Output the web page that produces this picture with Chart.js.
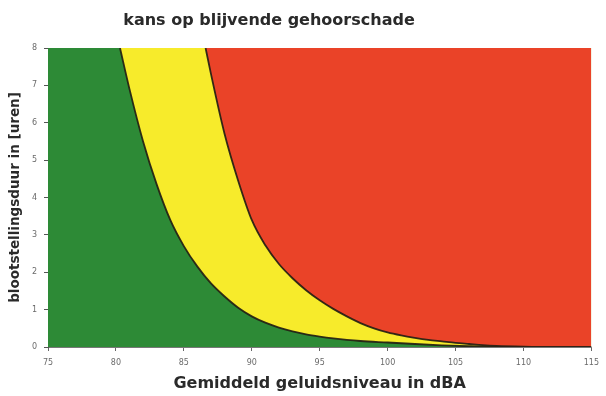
<!DOCTYPE html>
<html>
<head>
<meta charset="utf-8">
<script src="https://cdn.jsdelivr.net/npm/chart.js@4/dist/chart.umd.min.js"></script>
<style>
  html, body { margin: 0; padding: 0; background: #ffffff; }
  #wrap { width: 606px; height: 396px; }
</style>
</head>
<body>
<div id="wrap"><canvas id="c" width="606" height="396"></canvas></div>
<script>
// Texts
const chartTitle = 'kans op blijvende gehoorschade';
const xTitle = 'Gemiddeld geluidsniveau in dBA';
const yTitle = 'blootstellingsduur in [uren]';

// Axis ticks
const xTicks = [75, 80, 85, 90, 95, 100, 105, 110, 115];
const yTicks = [0, 1, 2, 3, 4, 5, 6, 7, 8];

// Lower limit: below/left of this curve the exposure is safe (green)
const safeLevel = [80.3, 81, 82, 83, 84, 85, 86, 87, 88, 89, 90, 91, 92, 93, 94, 95, 96, 97, 98, 100, 102, 104, 106, 108, 110, 115];
const safeHours = [8, 6.9, 5.5, 4.35, 3.4, 2.7, 2.15, 1.7, 1.35, 1.05, 0.82, 0.65, 0.52, 0.42, 0.34, 0.28, 0.23, 0.19, 0.16, 0.12, 0.08, 0.045, 0.02, 0.008, 0, 0];

// Upper limit: above/right of this curve the risk is high (red)
const riskLevel = [86.6, 87, 88, 89, 90, 91, 92, 93, 94, 95, 96, 97, 98, 99, 100, 101, 102, 103, 104, 105, 106, 107, 108, 110, 112, 115];
const riskHours = [8, 7.3, 5.7, 4.45, 3.4, 2.72, 2.22, 1.84, 1.52, 1.25, 1.02, 0.82, 0.64, 0.5, 0.39, 0.31, 0.245, 0.19, 0.15, 0.11, 0.08, 0.05, 0.03, 0.01, 0, 0];

const GREEN = '#2d8a36';
const YELLOW = '#f7eb2b';
const RED = '#ea4328';
const EDGE = 'rgba(35,30,20,0.92)';
const FONT = '"DejaVu Sans", "Liberation Sans", sans-serif';

const toPoints = (xs, ys) => xs.map((x, i) => ({ x: x, y: ys[i] }));
const yMax = yTicks[yTicks.length - 1];
const xMin = xTicks[0];
const xMax = xTicks[xTicks.length - 1];

const titlePlugin = {
  id: 'chartTitleText',
  afterDraw(chart) {
    const c = chart.ctx;
    c.save();
    c.font = 'bold 16px ' + FONT;
    c.fillStyle = '#2a2a2a';
    c.textAlign = 'center';
    c.textBaseline = 'middle';
    c.fillText(chartTitle, 269, 21);
    c.restore();
  }
};

new Chart(document.getElementById('c'), {
  type: 'line',
  data: {
    datasets: [
      {
        // high risk zone: everything above the upper limit
        data: toPoints(riskLevel, riskHours),
        fill: 'end',
        backgroundColor: RED,
        borderColor: EDGE,
        borderWidth: 1.8,
        pointRadius: 0,
        cubicInterpolationMode: 'monotone',
        clip: 0,
        order: 1
      },
      {
        // elevated zone: everything above the lower limit
        data: toPoints(safeLevel, safeHours),
        fill: 'end',
        backgroundColor: YELLOW,
        borderColor: EDGE,
        borderWidth: 1.8,
        pointRadius: 0,
        cubicInterpolationMode: 'monotone',
        clip: 0,
        order: 2
      },
      {
        // safe zone: base layer over the whole plot
        data: [{ x: xMin, y: yMax }, { x: xMax, y: yMax }],
        fill: 'origin',
        backgroundColor: GREEN,
        borderWidth: 0,
        pointRadius: 0,
        clip: 0,
        order: 3
      }
    ]
  },
  options: {
    responsive: false,
    animation: false,
    layout: { padding: { top: 48, right: 14, left: 0, bottom: 0 } },
    plugins: {
      legend: { display: false },
      tooltip: { enabled: false },
      title: { display: false }
    },
    scales: {
      x: {
        type: 'linear',
        min: xMin,
        max: xMax,
        afterFit: s => { s.height = 49; },
        afterBuildTicks: s => { s.ticks = xTicks.map(v => ({ value: v })); },
        ticks: { color: '#6a6a6a', font: { family: FONT, size: 8 }, padding: 7, maxRotation: 0 },
        grid: { drawOnChartArea: false, tickLength: 4, color: '#666' },
        border: { display: true, color: '#777', width: 1 },
        title: {
          display: true,
          text: xTitle,
          color: '#2a2a2a',
          font: { family: FONT, size: 16, weight: 'bold' },
          padding: { top: 0, bottom: 3 }
        }
      },
      y: {
        type: 'linear',
        min: 0,
        max: yMax,
        afterFit: s => { s.width = 48; },
        afterBuildTicks: s => { s.ticks = yTicks.map(v => ({ value: v })); },
        ticks: { color: '#6a6a6a', font: { family: FONT, size: 8 }, padding: 7 },
        grid: { drawOnChartArea: false, tickLength: 4, color: '#555' },
        border: { display: true, color: '#555', width: 1 },
        title: {
          display: true,
          text: yTitle,
          color: '#2a2a2a',
          font: { family: FONT, size: 13.5, weight: 'bold' },
          padding: { top: 7, bottom: 0 }
        }
      }
    }
  },
  plugins: [titlePlugin]
});
</script>
</body>
</html>
